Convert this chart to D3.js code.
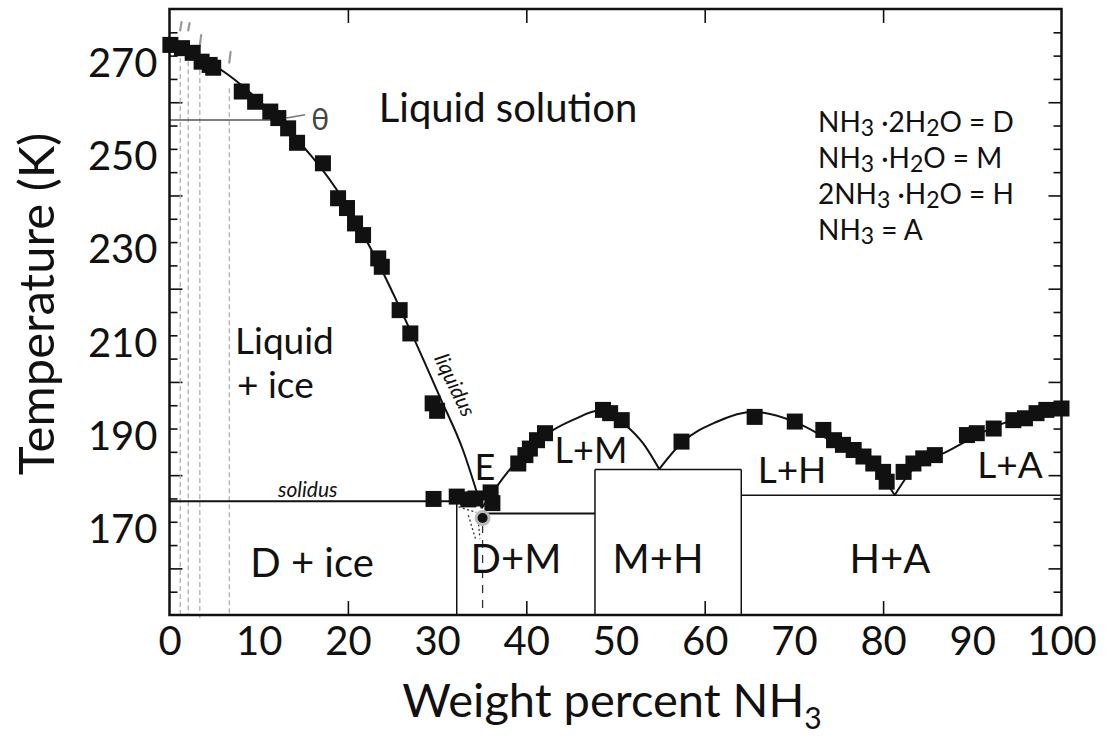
<!DOCTYPE html>
<html>
<head>
<meta charset="utf-8">
<script src="https://cdn.jsdelivr.net/npm/d3@7"></script>
<style>
    body { margin: 0; background: #fff; }
    svg text { font-family: Lato, "Open Sans", sans-serif; fill: #111; }
</style>
</head>
<body>
<div class="phaseChart"></div>
<script>
// measured points (wt% NH3, temperature K)
const iceSquares = [[0.1, 272.3], [1.4, 271.6], [2.6, 270.6], [3.6, 268.7], [4.5, 268.0], [4.9, 267.4],
    [8.1, 262.3], [9.6, 260.1], [11.3, 258.0], [12.2, 256.6], [13.3, 254.4], [14.3, 251.3], [17.2, 246.9],
    [18.9, 239.4], [19.9, 237.3], [20.8, 234.0], [21.7, 231.5], [23.4, 226.5], [23.8, 224.7],
    [25.8, 215.4], [27.0, 210.4], [29.5, 195.4], [30.0, 193.8]]
const solidusSquares = [[29.6, 174.9], [32.2, 175.4], [33.5, 174.8], [34.3, 175.0], [36.0, 176.3], [36.2, 174.0]]
const lmSquares = [[39.1, 182.5], [39.9, 184.3], [40.4, 185.7], [41.2, 187.5], [42.1, 189.0],
    [48.6, 194.0], [49.4, 193.3], [50.7, 191.8]]
const lhSquares = [[57.4, 187.2], [65.6, 192.5], [70.1, 191.5], [73.3, 189.7], [74.5, 187.5], [75.5, 186.5],
    [76.7, 185.4], [77.8, 184.0], [78.9, 182.5], [80.0, 180.7], [80.4, 178.6]]
const laSquares = [[82.3, 180.7], [83.4, 182.5], [84.5, 183.6], [85.8, 184.3], [89.4, 188.6], [90.5, 189.0],
    [92.4, 190.0], [94.6, 191.8], [95.9, 192.2], [97.2, 193.3], [98.3, 194.0], [100, 194.3]]

// liquidus curves
const iceCurve = [[0, 272.7], [6.5, 266.0], [12.2, 256.2], [19.5, 239.0], [23.4, 225.5], [27.0, 211.0],
    [30.3, 196.8], [32.9, 185.4], [35.0, 172.9]]
const lmCurve = [[35.0, 172.9], [37.8, 180.4], [42.7, 189.3], [45.3, 191.9], [48.3, 193.9], [51.2, 190.6],
    [53.1, 186.8], [54.9, 181.3]]
const lhCurve = [[54.9, 181.3], [57.4, 186.9], [61.3, 191.4], [65.4, 193.6], [69.9, 191.6], [73.7, 187.9],
    [78.9, 182.3], [81.3, 175.7]]
const laCurve = [[81.3, 175.7], [83.4, 181.4], [87.1, 185.0], [93.0, 190.8], [100, 194.0]]

// phase boundaries
const solidusT = 174.4
const dmTopT = 171.8
const mhTopT = 181.2
const haT = 175.7
const dmLeftX = 32.2
const mhLeftX = 47.7
const mhRightX = 64.1
const eutecticX = 35.1
const eutecticT = 170.8
const thetaT = 256.2

// experimental runs (dashed verticals)
const runX = [1.2, 2.1, 3.4, 6.7]
const runTop = [269.5, 268.8, 266.9, 263.0]
const runMarkTop = [277.2, 277.0, 274.4, 270.8]
const runMarkBottom = [275.4, 275.4, 272.1, 268.5]

const xTicks = [0, 10, 20, 30, 40, 50, 60, 70, 80, 90, 100]
const yTicks = [170, 190, 210, 230, 250, 270]

const legendLines = [
    [['NH', 0], ['3', 1], [' ·2H', 0], ['2', 1], ['O = D', 0]],
    [['NH', 0], ['3', 1], [' ·H', 0], ['2', 1], ['O = M', 0]],
    [['2NH', 0], ['3', 1], [' ·H', 0], ['2', 1], ['O = H', 0]],
    [['NH', 0], ['3', 1], [' = A', 0]]
]

// render chart
var width = 1114
var height = 736

var svg = d3.select('.phaseChart')
    .append('svg')
    .attr('width', width)
    .attr('height', height)
    .style('background-color', '#fff')

var x = d3.scaleLinear().domain([0, 100]).range([169.5, 1061.5])
var y = d3.scaleLinear().domain([150, 280]).range([615, 9])

// tick labels
const xLabels = svg.append('g').attr('transform', `translate(0, ${y(150)})`)
    .call(d3.axisBottom(x).tickValues(xTicks).tickSize(0).tickPadding(12))
xLabels.select('.domain').remove()
xLabels.selectAll('text').style('font-size', '40px').style('font-family', 'Lato')

const yLabels = svg.append('g').attr('transform', `translate(${x(0)}, 0)`)
    .call(d3.axisLeft(y).tickValues(yTicks).tickSize(0).tickPadding(12))
yLabels.select('.domain').remove()
yLabels.selectAll('text').attr('dy', '0.52em').style('font-size', '40px').style('font-family', 'Lato')

// inner ticks
const minor = d3.range(155, 280, 5)
const longTick = (d) => d % 20 === 0
const leftTicks = svg.append('g').attr('transform', `translate(${x(0)}, 0)`)
    .call(d3.axisLeft(y).tickValues(minor).tickSizeInner(-8).tickSizeOuter(0).tickFormat(''))
leftTicks.selectAll('.tick line').attr('x2', (d) => longTick(d) ? 13 : 8)
const rightTicks = svg.append('g').attr('transform', `translate(${x(100)}, 0)`)
    .call(d3.axisRight(y).tickValues(minor).tickSizeInner(-8).tickSizeOuter(0).tickFormat(''))
rightTicks.selectAll('.tick line').attr('x2', (d) => longTick(d) ? -13 : -8)
svg.append('g').attr('transform', `translate(0, ${y(150)})`)
    .call(d3.axisBottom(x).tickValues([20, 40, 60, 80]).tickSizeInner(-14).tickSizeOuter(0).tickFormat(''))
svg.append('g').attr('transform', `translate(0, ${y(280)})`)
    .call(d3.axisTop(x).tickValues([20, 40, 60, 80]).tickSizeInner(-14).tickSizeOuter(0).tickFormat(''))
svg.selectAll('.domain').remove()
svg.selectAll('.tick line').attr('stroke', '#111').attr('stroke-width', 1.6)

var plot = svg.append('g')

// dashed run lines and grey marks
runX.forEach((rx, i) => {
    plot.append('line')
        .attr('x1', x(rx)).attr('x2', x(rx))
        .attr('y1', y(runTop[i])).attr('y2', y(150) + (i === 2 ? 3 : 0))
        .attr('stroke', '#aaa').attr('stroke-width', 1.2).attr('stroke-dasharray', '5,3')
    plot.append('line')
        .attr('x1', x(rx + 0.15)).attr('x2', x(rx))
        .attr('y1', y(runMarkTop[i])).attr('y2', y(runMarkBottom[i]))
        .attr('stroke', '#999').attr('stroke-width', 2.2).attr('stroke-linecap', 'round')
})

// theta line
plot.append('line')
    .attr('x1', x(0)).attr('x2', x(12.2)).attr('y1', y(thetaT)).attr('y2', y(thetaT))
    .attr('stroke', '#555').attr('stroke-width', 1.5)
plot.append('line')
    .attr('x1', x(13.1)).attr('x2', x(15.2)).attr('y1', y(thetaT + 0.4)).attr('y2', y(thetaT + 1.1))
    .attr('stroke', '#777').attr('stroke-width', 1.6)
svg.append('text')
    .attr('x', x(16.9)).attr('y', y(thetaT) + 10)
    .attr('text-anchor', 'middle')
    .style('font-size', '30px').style('fill', '#444')
    .text('θ')

// phase boundary lines
const seg = (x1, t1, x2, t2, w) => plot.append('line')
    .attr('x1', x(x1)).attr('y1', y(t1)).attr('x2', x(x2)).attr('y2', y(t2))
    .attr('stroke', '#111').attr('stroke-width', w)
seg(0, solidusT, 34.6, solidusT, 2)
seg(dmLeftX, solidusT, dmLeftX, 150, 1.5)
seg(eutecticX, dmTopT, mhLeftX, dmTopT, 2)
seg(mhLeftX, 150, mhLeftX, mhTopT, 1.5)
seg(mhLeftX, mhTopT, mhRightX, mhTopT, 1.5)
seg(mhRightX, mhTopT, mhRightX, 150, 1.5)
seg(mhRightX, haT, 100, haT, 1.5)

// metastable dotted bits near eutectic
const dotted = (x1, t1, x2, t2) => plot.append('line')
    .attr('x1', x(x1)).attr('y1', y(t1)).attr('x2', x(x2)).attr('y2', y(t2))
    .attr('stroke', '#333').attr('stroke-width', 1.3).attr('stroke-dasharray', '2,2.5')
dotted(32.4, 173.2, 34.4, 172.0)
dotted(33.5, 171.4, 34.3, 166.4)
dotted(34.6, 170.4, 34.8, 166.4)
plot.append('line')
    .attr('x1', x(eutecticX)).attr('x2', x(eutecticX))
    .attr('y1', y(eutecticT - 1.5)).attr('y2', y(150))
    .attr('stroke', '#333').attr('stroke-width', 1.3).attr('stroke-dasharray', '8,7')

// liquidus curves
var line = d3.line().x((d) => x(d[0])).y((d) => y(d[1])).curve(d3.curveMonotoneX)
;[iceCurve, lmCurve, lhCurve, laCurve].forEach((c) => {
    plot.append('path').datum(c).attr('d', line)
        .attr('fill', 'none').attr('stroke', '#111').attr('stroke-width', 2)
})

// squares
var allSquares = iceSquares.concat(solidusSquares, lmSquares, lhSquares, laSquares)
var sq = 16
plot.selectAll('rect.pt').data(allSquares).enter().append('rect')
    .attr('class', 'pt')
    .attr('x', (d) => x(d[0]) - sq / 2)
    .attr('y', (d) => y(d[1]) - sq / 2)
    .attr('width', sq).attr('height', sq)
    .attr('fill', '#111')

// eutectic dot
plot.append('circle').attr('cx', x(eutecticX)).attr('cy', y(eutecticT)).attr('r', 8).attr('fill', '#bbb')
plot.append('circle').attr('cx', x(eutecticX)).attr('cy', y(eutecticT)).attr('r', 5).attr('fill', '#111')

// frame
svg.append('rect')
    .attr('x', x(0)).attr('y', y(280))
    .attr('width', x(100) - x(0)).attr('height', y(150) - y(280))
    .attr('fill', 'none').attr('stroke', '#111').attr('stroke-width', 2.5)

// region labels
const label = (txt, px, py, size, anchor) => svg.append('text')
    .attr('x', px).attr('y', py)
    .attr('text-anchor', anchor || 'middle')
    .style('font-size', size + 'px')
    .text(txt)
label('Liquid solution', 508, 122, 40)
label('Liquid', 235, 354, 37, 'start')
label('+ ice', 237, 398, 37, 'start')
label('D + ice', 312, 577, 40)
label('D+M', 516, 573, 40)
label('M+H', 658, 573, 40)
label('H+A', 890, 573, 40)
label('E', 485, 480, 36)
label('L+M', 591, 463, 36)
label('L+H', 792, 483, 37)
label('L+A', 1010, 478, 37)
label('solidus', 278, 497, 21, 'start').style('font-style', 'italic')
svg.append('text')
    .attr('transform', 'translate(455, 385) rotate(64)')
    .attr('text-anchor', 'middle')
    .attr('dy', '0.35em')
    .style('font-size', '21px').style('font-style', 'italic')
    .text('liquidus')

// legend
legendLines.forEach((parts, i) => {
    var yb = 132 + i * 36
    var t = svg.append('text').attr('x', 818).attr('y', yb).style('font-size', '28px')
    parts.forEach((p) => {
        t.append('tspan')
            .attr('y', p[1] ? yb + 4 : yb)
            .style('font-size', p[1] ? '23px' : '28px')
            .text(p[0])
    })
})

// axis titles
var xt = svg.append('text')
    .attr('x', 612).attr('y', 717)
    .attr('text-anchor', 'middle')
    .style('font-size', '47px')
xt.append('tspan').text('Weight percent NH')
xt.append('tspan').attr('dy', 12).style('font-size', '30px').text('3')

svg.append('text')
    .attr('transform', 'translate(54, 304) rotate(-90)')
    .attr('text-anchor', 'middle')
    .style('font-size', '49px')
    .text('Temperature (K)')
</script>
</body>
</html>
